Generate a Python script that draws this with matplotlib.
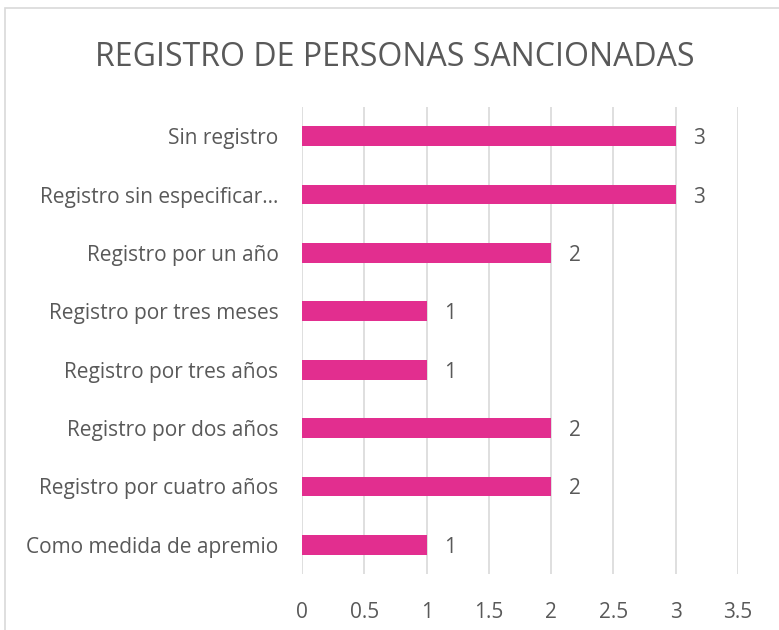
import matplotlib.pyplot as plt
from matplotlib.patches import Rectangle

# data (top to bottom as shown)
categories = ["Sin registro", "Registro sin especificar…", "Registro por un año",
              "Registro por tres meses", "Registro por tres años", "Registro por dos años",
              "Registro por cuatro años", "Como medida de apremio"]
values = [3, 3, 2, 1, 1, 2, 2, 1]
xticks = [0, 0.5, 1, 1.5, 2, 2.5, 3, 3.5]
xtick_labels = ["0", "0.5", "1", "1.5", "2", "2.5", "3", "3.5"]

plt.rcParams['font.family'] = ['Open Sans', 'DejaVu Sans']
txt = '#595959'
pink = '#E22E8F'

fig = plt.figure(figsize=(7.79, 6.3), dpi=100)
ax = fig.add_axes([0.3877, 0.0889, 0.5597, 0.7413])

# outer chart border (cropped at right/bottom)
fig.patches.append(Rectangle((5 / 779, -0.05), 1.1, 1 - 8 / 630 + 0.05,
                             transform=fig.transFigure, fill=False,
                             edgecolor='#D9D9D9', linewidth=1.2))

pos = list(range(len(categories)))[::-1]
ax.barh(pos, values, height=0.34, color=pink, zorder=3)
for p, v in zip(pos, values):
    ax.text(v + 0.14, p, str(v), va='center_baseline', ha='left', fontsize=15, color=txt)

ax.set_xlim(0, 3.5)
ax.set_ylim(-0.5, len(categories) - 0.5)
ax.set_xticks(xticks)
ax.set_xticklabels(xtick_labels)
ax.set_yticks(pos)
ax.set_yticklabels(categories)
ax.tick_params(length=0, labelsize=15, colors=txt)
ax.tick_params(axis='x', pad=20)
ax.tick_params(axis='y', pad=17)
ax.xaxis.grid(True, color='#D9D9D9', linewidth=1.2, zorder=0)
for s in ax.spines.values():
    s.set_visible(False)

fig.text(0.507, 0.908, "REGISTRO DE PERSONAS SANCIONADAS", ha='center', va='center',
         fontsize=23, color=txt)

fig.savefig('out.png', dpi=100)
